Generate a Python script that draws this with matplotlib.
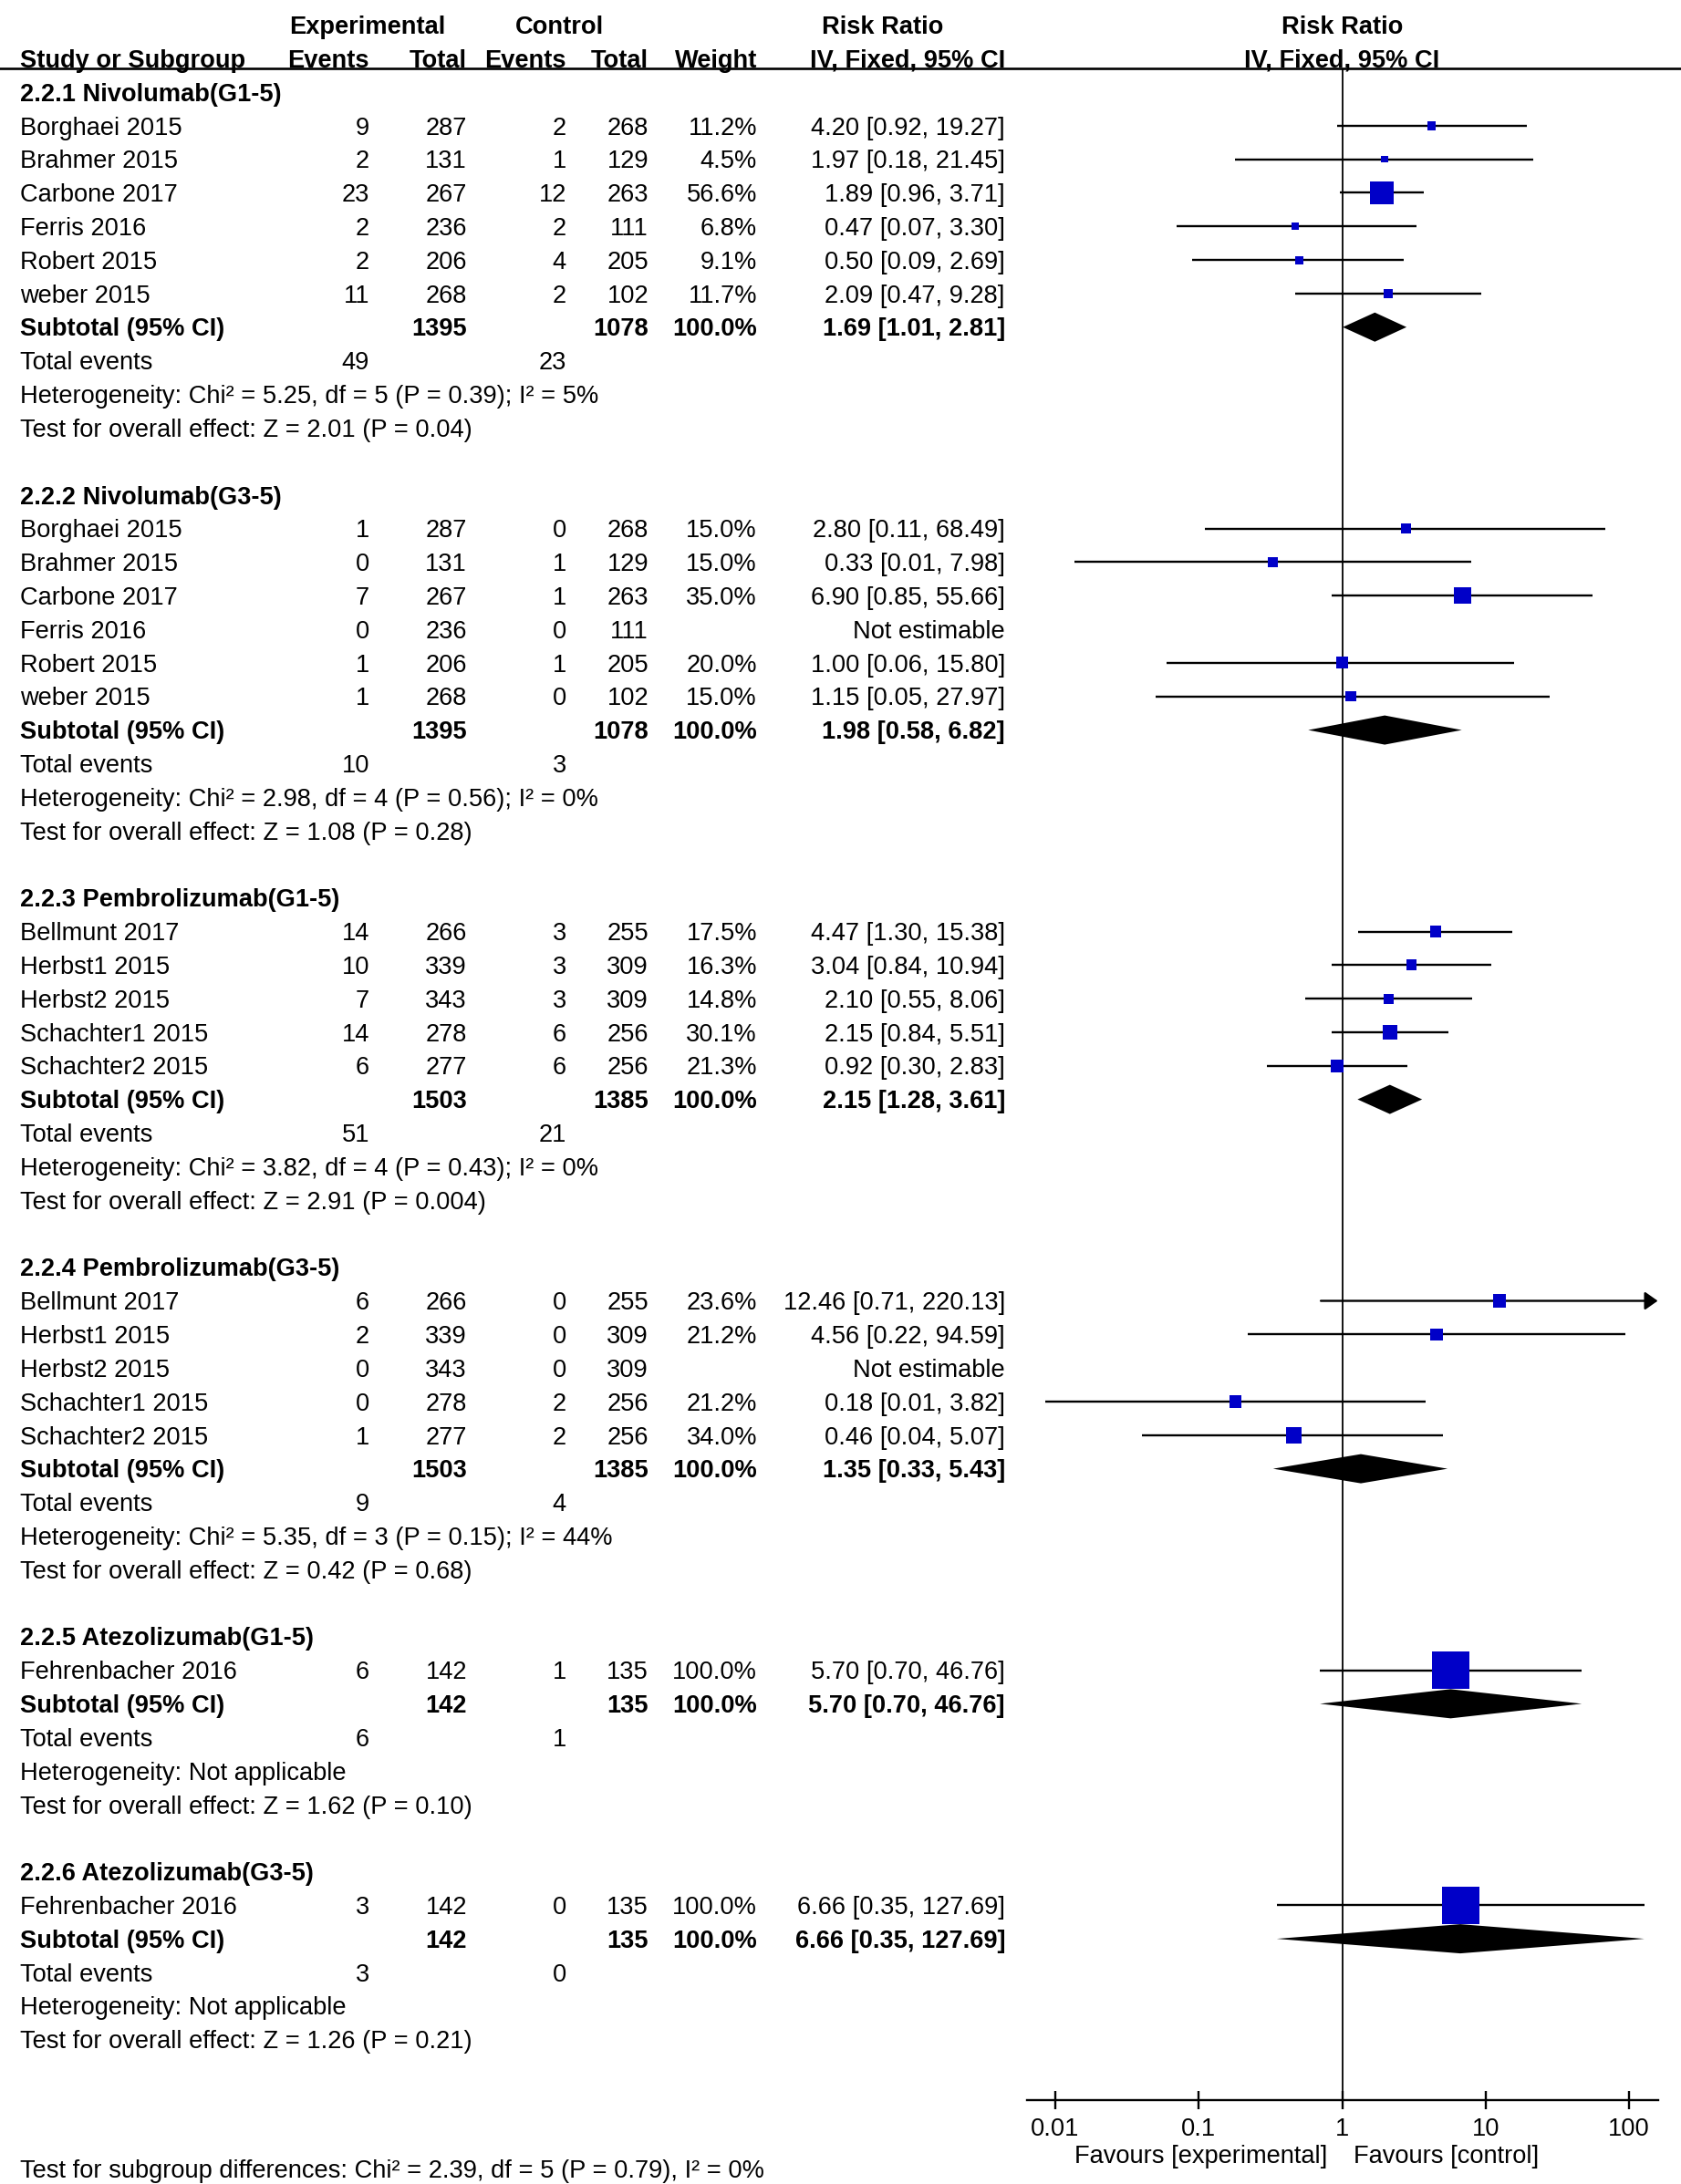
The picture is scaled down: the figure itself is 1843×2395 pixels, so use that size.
import numpy as np
import matplotlib
matplotlib.use("Agg")
import matplotlib.pyplot as plt
from matplotlib.ticker import NullLocator

plt.rcParams["font.family"] = ["Liberation Sans", "DejaVu Sans"]

# ---- data ----
group_titles = ["2.2.1 Nivolumab(G1-5)", "2.2.2 Nivolumab(G3-5)",
                "2.2.3 Pembrolizumab(G1-5)", "2.2.4 Pembrolizumab(G3-5)",
                "2.2.5 Atezolizumab(G1-5)", "2.2.6 Atezolizumab(G3-5)"]

study_group = [0] * 6 + [1] * 6 + [2] * 5 + [3] * 5 + [4] + [5]
study_names = ["Borghaei 2015", "Brahmer 2015", "Carbone 2017", "Ferris 2016", "Robert 2015", "weber 2015",
               "Borghaei 2015", "Brahmer 2015", "Carbone 2017", "Ferris 2016", "Robert 2015", "weber 2015",
               "Bellmunt 2017", "Herbst1 2015", "Herbst2 2015", "Schachter1 2015", "Schachter2 2015",
               "Bellmunt 2017", "Herbst1 2015", "Herbst2 2015", "Schachter1 2015", "Schachter2 2015",
               "Fehrenbacher 2016", "Fehrenbacher 2016"]
exp_events = [9, 2, 23, 2, 2, 11, 1, 0, 7, 0, 1, 1, 14, 10, 7, 14, 6, 6, 2, 0, 0, 1, 6, 3]
exp_total = [287, 131, 267, 236, 206, 268, 287, 131, 267, 236, 206, 268,
             266, 339, 343, 278, 277, 266, 339, 343, 278, 277, 142, 142]
ctrl_events = [2, 1, 12, 2, 4, 2, 0, 1, 1, 0, 1, 0, 3, 3, 3, 6, 6, 0, 0, 0, 2, 2, 1, 0]
ctrl_total = [268, 129, 263, 111, 205, 102, 268, 129, 263, 111, 205, 102,
              255, 309, 309, 256, 256, 255, 309, 309, 256, 256, 135, 135]
weights = [11.2, 4.5, 56.6, 6.8, 9.1, 11.7,
           15.0, 15.0, 35.0, None, 20.0, 15.0,
           17.5, 16.3, 14.8, 30.1, 21.3,
           23.6, 21.2, None, 21.2, 34.0,
           100.0, 100.0]
rr = [4.20, 1.97, 1.89, 0.47, 0.50, 2.09,
      2.80, 0.33, 6.90, None, 1.00, 1.15,
      4.47, 3.04, 2.10, 2.15, 0.92,
      12.46, 4.56, None, 0.18, 0.46,
      5.70, 6.66]
ci_lo = [0.92, 0.18, 0.96, 0.07, 0.09, 0.47,
         0.11, 0.0136, 0.85, None, 0.06, 0.05,
         1.30, 0.84, 0.55, 0.84, 0.30,
         0.71, 0.22, None, 0.0085, 0.04,
         0.70, 0.35]
ci_hi = [19.27, 21.45, 3.71, 3.30, 2.69, 9.28,
         68.49, 7.98, 55.66, None, 15.80, 27.97,
         15.38, 10.94, 8.06, 5.51, 2.83,
         220.13, 94.59, None, 3.82, 5.07,
         46.76, 127.69]

sub_exp_total = [1395, 1395, 1503, 1503, 142, 142]
sub_ctrl_total = [1078, 1078, 1385, 1385, 135, 135]
sub_rr = [1.69, 1.98, 2.15, 1.35, 5.70, 6.66]
sub_lo = [1.01, 0.58, 1.28, 0.33, 0.70, 0.35]
sub_hi = [2.81, 6.82, 3.61, 5.43, 46.76, 127.69]
tot_exp_events = [49, 10, 51, 9, 6, 3]
tot_ctrl_events = [23, 3, 21, 4, 1, 0]
heterogeneity = ["Heterogeneity: Chi² = 5.25, df = 5 (P = 0.39); I² = 5%",
                 "Heterogeneity: Chi² = 2.98, df = 4 (P = 0.56); I² = 0%",
                 "Heterogeneity: Chi² = 3.82, df = 4 (P = 0.43); I² = 0%",
                 "Heterogeneity: Chi² = 5.35, df = 3 (P = 0.15); I² = 44%",
                 "Heterogeneity: Not applicable",
                 "Heterogeneity: Not applicable"]
overall_effect = ["Test for overall effect: Z = 2.01 (P = 0.04)",
                  "Test for overall effect: Z = 1.08 (P = 0.28)",
                  "Test for overall effect: Z = 2.91 (P = 0.004)",
                  "Test for overall effect: Z = 0.42 (P = 0.68)",
                  "Test for overall effect: Z = 1.62 (P = 0.10)",
                  "Test for overall effect: Z = 1.26 (P = 0.21)"]
subgroup_test = "Test for subgroup differences: Chi² = 2.39, df = 5 (P = 0.79), I² = 0%"
x_ticks = [0.01, 0.1, 1, 10, 100]
x_ticklabels = ["0.01", "0.1", "1", "10", "100"]

# ---- layout (pixels) ----
W, H = 1843, 2395
ROW0, DY, BASE = 101, 36.82, 9.7
FS = 19.6
X_NAME, X_EEV, X_ETOT, X_CEV, X_CTOT, X_W, X_CI = 22, 405, 512, 621, 711, 830, 1102
PLOT_L, PLOT_R, PLOT_T, PLOT_B = 1125.5, 1817.5, 75, 2303
BLUE = "#0000c8"
LW = 1.7


def ypx(r):
    return ROW0 + r * DY


fig = plt.figure(figsize=(W / 100, H / 100), dpi=100)
tax = fig.add_axes([0, 0, 1, 1])
tax.set_xlim(0, W)
tax.set_ylim(H, 0)
tax.axis("off")


def put(x, r, s, ha="left", bold=False):
    tax.text(x, ypx(r) + BASE, s, ha=ha, va="baseline", fontsize=FS,
             fontweight="bold" if bold else "normal", color="black")


def ci_text(a, lo, hi):
    return f"{a:.2f} [{lo:.2f}, {hi:.2f}]"


# header
put(403, -2, "Experimental", ha="center", bold=True)
put(613, -2, "Control", ha="center", bold=True)
put(968, -2, "Risk Ratio", ha="center", bold=True)
put(1472, -2, "Risk Ratio", ha="center", bold=True)
put(X_NAME, -1, "Study or Subgroup", bold=True)
for x, s in [(X_EEV, "Events"), (X_ETOT, "Total"), (X_CEV, "Events"),
             (X_CTOT, "Total"), (X_W, "Weight"), (X_CI, "IV, Fixed, 95% CI")]:
    put(x, -1, s, ha="right", bold=True)
put(1471, -1, "IV, Fixed, 95% CI", ha="center", bold=True)
tax.axhline(PLOT_T, color="black", lw=1.9)

# table rows
study_rows = [None] * len(study_names)
sub_rows = []
r = 0
for g, title in enumerate(group_titles):
    put(X_NAME, r, title, bold=True)
    r += 1
    for i in [k for k, gg in enumerate(study_group) if gg == g]:
        study_rows[i] = r
        put(X_NAME, r, study_names[i])
        put(X_EEV, r, str(exp_events[i]), ha="right")
        put(X_ETOT, r, str(exp_total[i]), ha="right")
        put(X_CEV, r, str(ctrl_events[i]), ha="right")
        put(X_CTOT, r, str(ctrl_total[i]), ha="right")
        if weights[i] is None:
            put(X_CI, r, "Not estimable", ha="right")
        else:
            put(X_W, r, f"{weights[i]:.1f}%", ha="right")
            put(X_CI, r, ci_text(rr[i], ci_lo[i], ci_hi[i]), ha="right")
        r += 1
    sub_rows.append(r)
    put(X_NAME, r, "Subtotal (95% CI)", bold=True)
    put(X_ETOT, r, str(sub_exp_total[g]), ha="right", bold=True)
    put(X_CTOT, r, str(sub_ctrl_total[g]), ha="right", bold=True)
    put(X_W, r, "100.0%", ha="right", bold=True)
    put(X_CI, r, ci_text(sub_rr[g], sub_lo[g], sub_hi[g]), ha="right", bold=True)
    r += 1
    put(X_NAME, r, "Total events")
    put(X_EEV, r, str(tot_exp_events[g]), ha="right")
    put(X_CEV, r, str(tot_ctrl_events[g]), ha="right")
    r += 1
    put(X_NAME, r, heterogeneity[g])
    r += 1
    put(X_NAME, r, overall_effect[g])
    r += 2

# bottom notes (kept just inside the lower edge)
tax.text(X_NAME, 2388, subgroup_test, ha="left", va="baseline", fontsize=FS)
tax.text(1455, 2372, "Favours [experimental]", ha="right", va="baseline", fontsize=FS)
tax.text(1484, 2372, "Favours [control]", ha="left", va="baseline", fontsize=FS)

# forest panel
fx = fig.add_axes([PLOT_L / W, 1 - PLOT_B / H, (PLOT_R - PLOT_L) / W, (PLOT_B - PLOT_T) / H])
fx.patch.set_visible(False)
fx.set_xscale("log")
fx.set_xlim(10 ** -2.2, 10 ** 2.2)
fx.set_ylim((PLOT_B - ROW0) / DY, (PLOT_T - ROW0) / DY)
for side in ["top", "left", "right"]:
    fx.spines[side].set_visible(False)
fx.spines["bottom"].set_linewidth(1.7)
fx.set_yticks([])
fx.set_xticks(x_ticks, x_ticklabels)
fx.xaxis.set_minor_locator(NullLocator())
fx.tick_params(axis="x", direction="inout", length=13.7, width=1.7, pad=6.8,
               labelsize=FS, colors="black")
fx.axvline(1, color="black", lw=1.3, zorder=1)

xmax = fx.get_xlim()[1]
est = [i for i in range(len(study_names)) if rr[i] is not None]
for i in est:
    y = study_rows[i]
    if ci_hi[i] > xmax:
        fx.annotate("", xy=(xmax, y), xytext=(ci_lo[i], y), annotation_clip=False,
                    arrowprops=dict(arrowstyle="-|>,head_length=0.85,head_width=0.6",
                                    lw=LW, color="black", shrinkA=0, shrinkB=0,
                                    mutation_scale=10))
    else:
        fx.hlines(y, ci_lo[i], ci_hi[i], color="black", lw=LW, zorder=2)

# box side grows with study weight
sides_px = np.array([6.0 + 0.35 * weights[i] for i in est])
fx.scatter([rr[i] for i in est], [study_rows[i] for i in est], s=(sides_px * 0.72) ** 2,
           marker="s", color=BLUE, linewidths=0, zorder=3)

h = 16 / DY
for g in range(len(group_titles)):
    y = sub_rows[g]
    fx.fill([sub_lo[g], sub_rr[g], sub_hi[g], sub_rr[g]], [y, y - h, y, y + h],
            color="black", lw=0, zorder=4)

fig.savefig("out.png", dpi=100)
